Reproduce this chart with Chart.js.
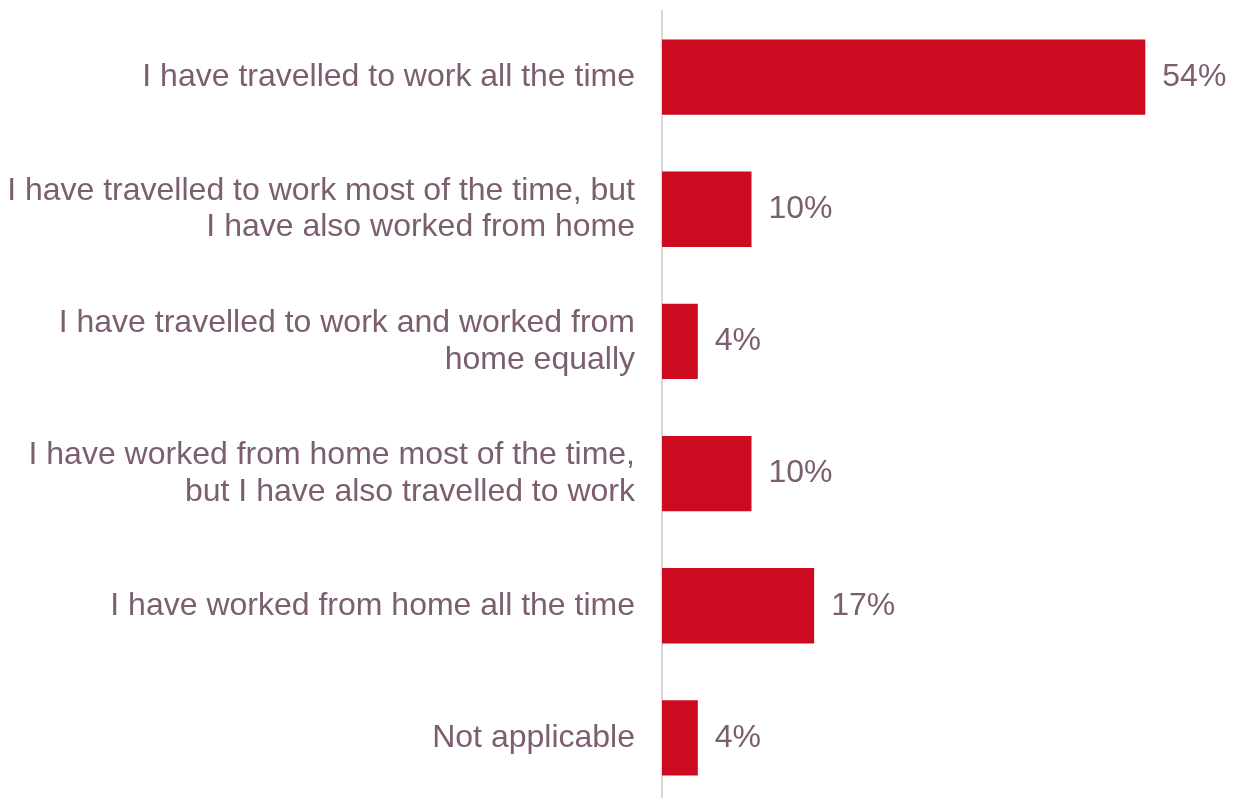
<!DOCTYPE html>
<html>
<head>
<meta charset="utf-8">
<script src="https://cdn.jsdelivr.net/npm/chart.js@4"></script>
<style>
    html, body { margin: 0; padding: 0; background: #fff; overflow: hidden; }
    #wrap { width: 1240px; height: 804px; }
</style>
</head>
<body>
<div id="wrap"><canvas id="workChart"></canvas></div>
<script>
const categories = [
    'I have travelled to work all the time',
    ['I have travelled to work most of the time, but', 'I have also worked from home'],
    ['I have travelled to work and worked from', 'home equally'],
    ['I have worked from home most of the time,', 'but I have also travelled to work'],
    'I have worked from home all the time',
    'Not applicable'
];
const shares = [54, 10, 4, 10, 17, 4];

const textColor = '#7b5e6f';
const barColor = '#cc0a20';

const valueLabels = {
    id: 'valueLabels',
    afterDatasetsDraw(chart) {
        const ctx = chart.ctx;
        const meta = chart.getDatasetMeta(0);
        ctx.save();
        ctx.font = '32px "Liberation Sans", Arial, sans-serif';
        ctx.fillStyle = textColor;
        ctx.textAlign = 'left';
        ctx.textBaseline = 'middle';
        meta.data.forEach((bar, i) => {
            ctx.fillText(shares[i] + '%', bar.x + 17, bar.y);
        });
        ctx.restore();
    }
};

document.addEventListener("DOMContentLoaded", () => {
    new Chart(document.getElementById('workChart').getContext('2d'), {
        type: 'bar',
        data: {
            labels: categories,
            datasets: [{
                data: shares,
                backgroundColor: barColor,
                borderWidth: 0,
                barPercentage: 0.57,
                categoryPercentage: 1
            }]
        },
        options: {
            indexAxis: 'y',
            responsive: true,
            maintainAspectRatio: false,
            animation: false,
            layout: { padding: { top: 11, right: 41, bottom: 0, left: 0 } },
            plugins: { legend: { display: false }, tooltip: { enabled: false } },
            scales: {
                x: { display: false, min: 0, max: 60 },
                y: {
                    afterFit: scale => {
                        scale.width = 662;
                        scale.paddingTop = 0;
                        scale.paddingBottom = 0;
                    },
                    grid: { display: false },
                    border: { display: true, color: '#d9d9d9', width: 2 },
                    ticks: {
                        color: textColor,
                        padding: 19,
                        font: { family: '"Liberation Sans", Arial, sans-serif', size: 32, lineHeight: 1.15 }
                    }
                }
            }
        },
        plugins: [valueLabels]
    });
});
</script>
</body>
</html>
